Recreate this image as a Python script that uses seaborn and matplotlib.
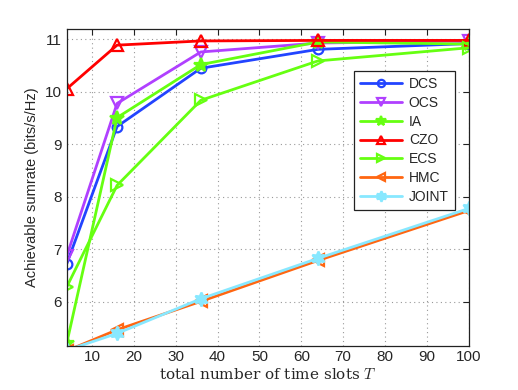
import matplotlib
matplotlib.use('Agg')
import pandas as pd
import numpy as np
import seaborn as sns
import matplotlib.pyplot as plt

# =========================================
# DATA
# =========================================

T = [4, 16, 36, 64, 100]

dcs = [6.73, 9.34, 10.45, 10.81, 10.92]
ocs = [6.88, 9.78, 10.76, 10.93, 10.97]
ia = [5.22, 9.51, 10.52, 10.95, 10.91]
czo = [10.06, 10.89, 10.97, 10.98, 10.98]
ecs = [6.29, 8.22, 9.84, 10.59, 10.84]
hmc = [5.07, 5.47, 6.01, 6.79, 7.74]
joint = [5.08, 5.40, 6.06, 6.83, 7.78]

names = ["DCS", "OCS", "IA", "CZO", "ECS", "HMC", "JOINT"]
series = [dcs, ocs, ia, czo, ecs, hmc, joint]

colors = ["#2244ff", "#b040ff", "#66ff11", "#ff0000",
          "#66ff11", "#ff6611", "#88e8ff"]
markers = ["o", "v", "*", "^", ">", "<", (6, 1, 0)]
msizes = [7, 8, 10, 8, 8, 8, 10]
filled = [False, False, True, False, False, False, True]

rows = []
for name, vals in zip(names, series):
    for t, v in zip(T, vals):
        rows.append({"T": t, "rate": v, "scheme": name})
df = pd.DataFrame(rows)

# =========================================
# PLOT
# =========================================

sns.set_style("white")
plt.rcParams['font.family'] = ['Liberation Sans', 'DejaVu Sans']
plt.rcParams['mathtext.fontset'] = 'cm'

fig = plt.figure(figsize=(5.18, 3.9), dpi=100)
ax = fig.add_axes([0.129, 0.114, 0.776, 0.812])

for name, c, m, ms, f in zip(names, colors, markers, msizes, filled):
    sub = df[df["scheme"] == name]
    sns.lineplot(
        data=sub, x="T", y="rate", ax=ax,
        color=c, marker=m, markersize=ms, linewidth=2,
        markerfacecolor=c if f else "none",
        markeredgecolor=c, markeredgewidth=1.6,
        label=name
    )

ax.set_xlim(4, 100)
ax.set_ylim(5.17, 11.2)
ax.set_xticks(np.arange(10, 101, 10))
ax.set_yticks([6, 7, 8, 9, 10, 11])

ax.grid(True, linestyle=(0, (1, 3)), color="#999999", linewidth=0.8)
ax.tick_params(direction="in", top=True, right=True, length=4,
               labelsize=11, color="#222222")
for sp in ax.spines.values():
    sp.set_color("#222222")
    sp.set_linewidth(0.9)

ax.set_xlabel("total number of time slots $T$", family="serif",
              fontsize=11, labelpad=2)
ax.set_ylabel("Achievable sumrate (bits/s/Hz)", fontsize=10.5)

leg = ax.legend(loc="upper right", bbox_to_anchor=(0.983, 0.89),
                fontsize=10, fancybox=False, framealpha=1,
                edgecolor="#222222", handlelength=3.0, markerscale=0.75,
                borderpad=0.45, labelspacing=0.35, handletextpad=0.5)
leg.get_frame().set_linewidth(0.9)

fig.savefig("out.png", dpi=100)
plt.close(fig)
